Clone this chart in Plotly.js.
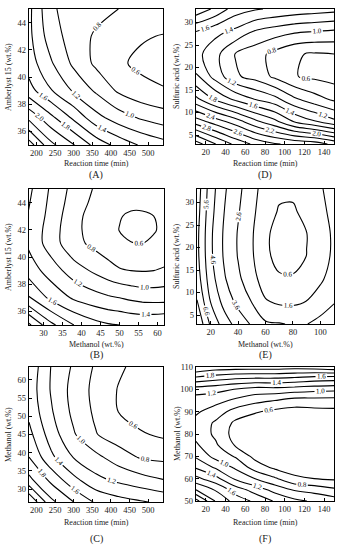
<!DOCTYPE html>
<html><head><meta charset="utf-8">
<script src="https://cdn.plot.ly/plotly-3.0.1.min.js"></script>
<style>html,body{margin:0;padding:0;background:#fff;}#chart{width:342px;height:550px;}</style>
</head><body><div id="chart"></div>
<script>
// ---- Panel A: reaction time vs Amberlyst 15 ----
const aTime = [180, 240, 300, 360, 420, 480, 540];
const aAmberlyst = [35, 37, 39, 41, 43, 45];
const aZ = [
  [2.70, 2.25, 2.01, 1.73, 1.53, 1.38, 1.28],
  [2.15, 1.85, 1.56, 1.27, 1.10, 0.98, 0.90],
  [1.68, 1.41, 1.17, 0.97, 0.77, 0.66, 0.61],
  [1.50, 1.22, 0.96, 0.76, 0.63, 0.56, 0.55],
  [1.45, 1.09, 0.91, 0.77, 0.66, 0.62, 0.59],
  [1.45, 1.02, 0.94, 0.87, 0.80, 0.76, 0.73]
];
// ---- Panel D: reaction time vs sulfuric acid ----
const dTime = [10, 30, 50, 70, 90, 110, 130, 150];
const dSulfuric = [3, 8, 13, 18, 23, 28, 33];
const dZ = [
  [3.50, 3.20, 2.95, 2.75, 2.62, 2.55, 2.50, 2.35],
  [2.70, 2.50, 2.30, 2.05, 1.85, 1.58, 1.42, 1.25],
  [2.05, 1.76, 1.55, 1.39, 1.26, 1.03, 0.88, 0.76],
  [1.62, 1.32, 1.03, 0.93, 0.76, 0.61, 0.56, 0.52],
  [1.47, 1.26, 0.99, 0.88, 0.74, 0.62, 0.58, 0.60],
  [1.60, 1.46, 1.35, 1.18, 1.10, 1.03, 1.00, 0.97],
  [2.15, 1.95, 1.70, 1.62, 1.57, 1.53, 1.50, 1.47]
];
// ---- Panel B: methanol vs Amberlyst 15 ----
const bMethanol = [26, 32, 38, 44, 47, 50, 53, 56, 59, 62];
const bAmberlyst = [35, 37, 39, 40, 41, 42, 43, 44, 45];
const bZ = [
  [2.45, 2.05, 1.80, 1.66, 1.62, 1.60, 1.58, 1.57, 1.58, 1.60],
  [1.82, 1.55, 1.37, 1.27, 1.23, 1.20, 1.16, 1.13, 1.12, 1.12],
  [1.52, 1.30, 1.10, 0.95, 0.88, 0.82, 0.80, 0.79, 0.80, 0.83],
  [1.44, 1.20, 0.97, 0.84, 0.78, 0.72, 0.69, 0.68, 0.70, 0.73],
  [1.37, 1.10, 0.86, 0.74, 0.68, 0.64, 0.605, 0.60, 0.62, 0.65],
  [1.37, 1.10, 0.85, 0.71, 0.65, 0.595, 0.565, 0.555, 0.59, 0.63],
  [1.39, 1.13, 0.86, 0.71, 0.65, 0.61, 0.575, 0.575, 0.60, 0.63],
  [1.42, 1.15, 0.90, 0.74, 0.70, 0.66, 0.64, 0.64, 0.66, 0.68],
  [1.45, 1.17, 0.93, 0.77, 0.73, 0.70, 0.69, 0.68, 0.70, 0.72]
];
// ---- Panel E: methanol vs sulfuric acid ----
const eMethanol = [10, 20, 30, 40, 50, 60, 70, 80, 90, 100, 110];
const eSulfuric = [3, 8, 13, 18, 23, 28, 33];
const eZ = [
  [8.51, 6.42, 5.09, 4.18, 3.49, 2.74, 2.66, 2.52, 2.57, 2.92, 3.30],
  [7.64, 5.55, 4.22, 3.31, 2.56, 1.69, 1.42, 1.40, 1.62, 2.03, 2.52],
  [7.12, 5.03, 3.70, 2.79, 2.00, 1.05, 0.70, 0.68, 0.93, 1.45, 2.02],
  [6.88, 4.79, 3.46, 2.55, 1.73, 0.76, 0.36, 0.34, 0.61, 1.18, 1.78],
  [6.86, 4.77, 3.44, 2.53, 1.71, 0.73, 0.33, 0.31, 0.58, 1.16, 1.76],
  [7.01, 4.92, 3.59, 2.68, 1.87, 0.91, 0.54, 0.52, 0.78, 1.33, 1.90],
  [7.15, 5.06, 3.73, 2.82, 2.03, 1.09, 0.74, 0.72, 0.97, 1.49, 2.04]
];
// ---- Panel C: reaction time vs methanol ----
const cTime = [180, 240, 300, 360, 420, 480, 540];
const cMethanol = [26.5, 32.7, 38.8, 45, 51.2, 57.3, 63.5];
const cZ = [
  [2.60, 2.05, 1.80, 1.57, 1.48, 1.42, 1.36],
  [2.05, 1.74, 1.45, 1.25, 1.15, 1.07, 1.00],
  [1.80, 1.44, 1.19, 1.05, 0.90, 0.78, 0.75],
  [1.66, 1.30, 1.02, 0.81, 0.69, 0.62, 0.57],
  [1.55, 1.22, 0.95, 0.76, 0.60, 0.52, 0.49],
  [1.52, 1.18, 0.93, 0.74, 0.59, 0.52, 0.48],
  [1.55, 1.19, 0.97, 0.77, 0.63, 0.54, 0.50]
];
// ---- Panel F: reaction time vs methanol ----
const fTime = [10, 30, 50, 70, 90, 110, 130, 150];
const fMethanol = [50, 55, 60, 65, 70, 75, 80, 85, 90, 95, 100, 105, 110];
const fZ = [
  [2.48, 1.98, 1.72, 1.56, 1.38, 1.25, 1.17, 1.10],
  [2.00, 1.78, 1.51, 1.31, 1.13, 0.98, 0.92, 0.84],
  [1.66, 1.47, 1.17, 1.00, 0.83, 0.64, 0.60, 0.57],
  [1.38, 1.17, 0.97, 0.71, 0.56, 0.51, 0.50, 0.49],
  [1.17, 0.93, 0.78, 0.54, 0.48, 0.47, 0.46, 0.46],
  [1.03, 0.83, 0.58, 0.47, 0.45, 0.45, 0.45, 0.45],
  [0.94, 0.76, 0.52, 0.45, 0.44, 0.44, 0.44, 0.44],
  [0.94, 0.77, 0.56, 0.49, 0.46, 0.45, 0.46, 0.46],
  [1.03, 0.90, 0.72, 0.62, 0.55, 0.52, 0.54, 0.55],
  [1.10, 1.07, 0.96, 0.86, 0.80, 0.72, 0.72, 0.72],
  [1.30, 1.26, 1.19, 1.12, 1.13, 1.10, 1.07, 1.05],
  [1.75, 1.68, 1.62, 1.60, 1.60, 1.57, 1.52, 1.50],
  [2.20, 2.12, 2.10, 2.10, 2.10, 2.08, 2.10, 2.15]
];

const SERIF = 'Liberation Serif, Times New Roman, serif';
function ct(x, y, z, xa, ya, start, end, size) {
  return {
    type: 'contour', x: x, y: y, z: z, xaxis: xa, yaxis: ya,
    showscale: false, hoverinfo: 'skip',
    contours: {coloring: 'none', showlabels: true, start: start, end: end, size: size,
      labelfont: {family: SERIF, size: 7, color: '#000'}, labelformat: '.1f'},
    line: {color: '#000', width: 1.1, smoothing: 1}
  };
}
const data = [
  ct(aTime, aAmberlyst, aZ, 'x', 'y', 0.6, 2.8, 0.2),
  ct(dTime, dSulfuric, dZ, 'x2', 'y2', 0.6, 3.4, 0.2),
  ct(bMethanol, bAmberlyst, bZ, 'x3', 'y3', 0.6, 2.4, 0.2),
  ct(eMethanol, eSulfuric, eZ, 'x4', 'y4', 0.6, 8.6, 1.0),
  ct(cTime, cMethanol, cZ, 'x5', 'y5', 0.6, 2.6, 0.2),
  ct(fTime, fMethanol, fZ, 'x6', 'y6', 0.6, 2.4, 0.2)
];
function ax(domain, range, tickvals, anchor) {
  return {domain: domain, range: range, tickvals: tickvals, anchor: anchor,
    showline: true, mirror: true, linecolor: '#000', linewidth: 1.2,
    ticks: 'inside', ticklen: 3, tickcolor: '#000', showgrid: false, zeroline: false,
    tickfont: {family: SERIF, size: 8.5, color: '#222'}};
}
const W = 342, H = 550;
const xd = (a, b) => [a / W, b / W];
const yd = (top, bot) => [1 - bot / H, 1 - top / H];
const txt = (text, x, y, size, angle) => ({text: text, x: x / W, y: 1 - y / H, xref: 'paper', yref: 'paper',
  showarrow: false, xanchor: 'center', yanchor: 'middle', textangle: angle || 0,
  font: {family: SERIF, size: size, color: '#222'}});
const layout = {
  width: W, height: H, margin: {l: 0, r: 0, t: 0, b: 0},
  paper_bgcolor: '#fff', plot_bgcolor: '#fff', showlegend: false,
  xaxis: ax(xd(29, 163), [180, 540], [200, 250, 300, 350, 400, 450, 500], 'y'),
  yaxis: ax(yd(9, 145), [35, 45], [36, 38, 40, 42, 44], 'x'),
  xaxis2: ax(xd(196, 334), [10, 150], [20, 40, 60, 80, 100, 120, 140], 'y2'),
  yaxis2: ax(yd(9, 144), [3, 33], [5, 10, 15, 20, 25, 30], 'x2'),
  xaxis3: ax(xd(29, 164), [26.2, 61.7], [30, 35, 40, 45, 50, 55, 60], 'y3'),
  yaxis3: ax(yd(189, 325), [35, 45], [36, 38, 40, 42, 44], 'x3'),
  xaxis4: ax(xd(197, 334), [10, 110], [20, 40, 60, 80, 100], 'y4'),
  yaxis4: ax(yd(189, 324), [3, 33], [5, 10, 15, 20, 25, 30], 'x4'),
  xaxis5: ax(xd(29, 163), [180, 540], [200, 250, 300, 350, 400, 450, 500], 'y5'),
  yaxis5: ax(yd(367, 502), [26.5, 63.5], [30, 35, 40, 45, 50, 55, 60], 'x5'),
  xaxis6: ax(xd(196, 334), [10, 150], [20, 40, 60, 80, 100, 120, 140], 'y6'),
  yaxis6: ax(yd(367, 501), [50, 110], [50, 60, 70, 80, 90, 100, 110], 'x6'),
  annotations: [
    txt('Reaction time (min)', 96, 164, 8), txt('Reaction time (min)', 265, 164, 8),
    txt('Methanol (wt.%)', 96, 344, 8), txt('Methanol (wt.%)', 265, 344, 8),
    txt('Reaction time (min)', 96, 522, 8), txt('Reaction time (min)', 265, 522, 8),
    txt('Amberlyst 15 (wt.%)', 8, 77, 8, -90), txt('Sulfuric acid (wt.%)', 176, 77, 8, -90),
    txt('Amberlyst 15 (wt.%)', 8, 257, 8, -90), txt('Sulfuric acid (wt.%)', 176, 257, 8, -90),
    txt('Methanol (wt.%)', 8, 435, 8, -90), txt('Methanol (wt.%)', 177, 434, 8, -90),
    txt('(A)', 96, 175, 10), txt('(D)', 265, 175, 10),
    txt('(B)', 96, 355, 10), txt('(E)', 265, 355, 10),
    txt('(C)', 96, 539, 10), txt('(F)', 265, 539, 10)
  ]
};
Plotly.newPlot('chart', data, layout, {staticPlot: true, displayModeBar: false});
</script>
</body></html>
